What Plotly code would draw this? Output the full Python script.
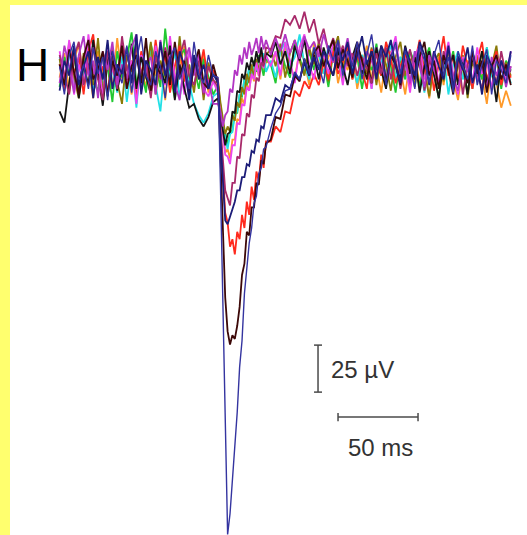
import plotly.graph_objects as go

# time axis (ms, relative to the onset of the evoked response)
T = ([-99, -96, -93, -90, -87, -84, -81, -78, -75, -72, -69, -66, -63, -60, -57, -54, -51,
      -48, -45, -42, -39, -36, -33, -30, -27, -24, -21, -18, -15, -12, -9, -6, -3]
     + [0, 1.5, 3, 4.5, 6, 7.5, 9, 10.5, 12, 13.5, 15, 16.5, 18, 19.5, 21, 22.5, 24, 25.5,
        27, 28.5, 30]
     + [33, 36, 39, 42, 45, 48, 51, 54, 57, 60, 63, 66, 69, 72, 75, 78, 81, 84, 87, 90, 93,
        96, 99, 102, 105, 108, 111, 114, 117, 120, 123, 126, 129, 132, 135, 138, 141, 144,
        147, 150, 153, 156, 159, 162, 165, 168, 171, 174, 177, 180, 183])

# sweeps (µV): pre-onset + response + late part
orange = ([-4,9,-12,5,14,-7,2,-15,10,-2,7,-10,17,-5,3,-13,9,0,-9,12,-3,5,-16,10,-7,2,13,-10,4,-5,9,-12,0]
          + [-7,-20,-30,-44,-42,-47,-37,-37,-26,-27,-15,-18,-7,-11,-1,-6,2,-3,6,0,5]
          + [3,9,-5,13,2,-4,10,5,-8,15,3,-2,7,12,-7,5,0,9,-10,3,13,-5,2,-12,7,10,-3,0,-13,5,8,-7,2,-15,3,7,-8,12,-5,-16,2,5,-10,8,-3,-18,3,-7,-20,-11,-19])
green = ([-9,7,-2,12,-14,4,16,-6,-11,9,2,-17,10,-4,6,20,-7,0,-12,14,3,-9,22,-2,-15,7,11,-5,2,-10,6,-4,-13]
         + [-8,-18,-30,-34,-40,-33,-32,-22,-23,-13,-14,-5,-8,1,-4,5,-1,8,2,-3,6]
         + [3,-7,12,2,-4,15,7,-2,10,0,13,5,-9,9,3,-5,12,2,7,-10,5,0,14,-3,9,2,-12,7,-5,10,4,-9,5,12,-2,-15,7,0,10,-7,3,-13,9,2,-5,12,-3,7,-10,5,0])
cyan = ([7,-5,12,-10,2,-4,15,-13,5,-7,10,0,-12,8,-17,4,-20,7,-2,13,-8,-22,5,-3,10,-15,2,-7,-18,-24,-28,-23,-14]
        + [-12,-20,-31,-36,-42,-34,-33,-24,-22,-13,-13,-5,-6,2,-3,4,0,7,2,9,-1]
        + [5,-4,10,15,2,7,19,3,-5,12,8,-2,13,5,16,-3,10,2,-7,8,3,-10,12,5,-2,15,-5,7,0,-9,10,3,-12,5,2,-7,8,-13,3,10,-5,2,-10,7,0,12,-3,-8,5,2,-7])
olive = ([6,-11,14,-4,-15,9,2,-8,17,-12,4,11,-6,-18,8,-1,13,-9,-3,15,-13,5,-4,10,-11,18,-6,3,-12,8,-16,4,-7]
         + [-6,-17,-25,-34,-30,-33,-24,-27,-17,-20,-9,-13,-2,-7,3,-4,6,-1,9,2,8]
         + [11,2,14,-4,9,16,5,-3,12,3,15,7,-6,10,18,1,9,-5,13,5,-2,12,-8,9,3,-11,7,15,-3,6,-9,11,0,-14,4,9,-6,12,-10,2,8,-15,5,-4,10,-9,2,13,-7,4,-3])
red = ([3,-10,15,-2,7,-13,10,19,-5,2,-12,8,-3,13,-8,5,-15,10,0,-7,16,-3,8,-12,2,13,-5,-10,7,-2,11,-8,0]
       + [-5,-32,-56,-76,-81,-94,-90,-98,-86,-90,-77,-84,-70,-77,-62,-69,-54,-59,-45,-52,-38]
       + [-38,-30,-33,-22,-23,-11,-14,-6,-10,-2,-8,4,-5,10,-2,4,13,-5,8,0,-10,11,3,-3,15,6,-7,2,10,-8,5,16,-2,7,-11,3,18,-3,8,-7,13,2,-10,5,15,-5,3,10,-8,2,-4])
magenta = ([10,-5,16,-13,3,-8,19,-2,7,-15,11,0,-7,15,-10,5,-18,8,2,-12,13,-3,-8,18,-5,3,-13,10,-2,7,-10,-14,-6]
           + [-12,-24,-33,-45,-46,-50,-40,-40,-28,-29,-18,-19,-9,-11,-2,-5,4,-3,7,1,8]
           + [2,10,-3,15,5,-7,12,19,3,-5,13,8,-2,16,7,-8,10,2,15,-3,5,-10,12,3,-7,8,18,-2,5,-12,7,13,-5,0,10,-8,3,15,-3,-13,7,2,-7,12,-2,5,-10,8,0,-5,10])
black = ([-22,-28,-7,11,-15,3,-8,16,-2,-19,5,10,-11,2,-5,14,-10,7,-3,-13,8,0,-7,13,-16,3,-10,-20,-18,-26,-30,-25,-17]
         + [-15,-26,-32,-40,-34,-33,-22,-23,-11,-12,-2,-5,4,0,7,2,10,4,12,3,9]
         + [7,15,3,10,-2,13,5,16,0,8,-5,12,3,-3,10,2,-8,7,15,-2,5,-7,12,0,-10,8,3,-5,13,-2,7,-12,2,10,-3,-15,5,0,8,-8,3,-13,7,-2,10,-7,2,-17,5,-3,0])
maroon = ([8,-3,-13,7,15,-8,2,12,-5,-16,10,3,-10,18,0,-7,13,-2,5,-15,8,-5,12,2,-10,7,16,-3,-8,5,-13,2,-5]
          + [-9,-30,-46,-64,-68,-72,-60,-60,-46,-47,-34,-35,-23,-25,-13,-15,-4,-6,4,2,12]
          + [11,18,17,27,24,29,22,31,20,27,14,22,10,17,5,13,2,9,-3,7,1,-7,9,-2,12,-5,6,-10,3,11,-3,8,-11,5,0,-8,10,2,-5,7,-13,3,8,-2,-10,5,0,-7,10,-3,2])
purple = ([-7,13,2,-12,8,18,-3,5,-15,10,0,15,-8,3,-5,12,19,-10,2,7,-13,16,-2,8,-7,-16,5,12,-3,10,-12,-5,-18]
          + [-18,-22,-30,-24,-22,-10,-12,0,-3,8,3,12,6,15,8,12,17,9,18,11,16]
          + [8,17,10,19,9,16,6,18,11,15,7,19,10,4,15,6,17,3,12,0,10,5,-3,11,-5,7,13,-2,6,-7,10,2,-9,8,0,-7,5,12,-4,-11,6,-1,9,-6,3,-10,7,-3,5,-9,2])
brown = ([3,-8,11,-2,-13,7,16,-5,0,10,-14,5,-3,13,-10,2,8,-7,17,-11,3,-2,10,-8,15,-3,5,-13,2,11,-7,-10,3]
         + [-7,-42,-86,-121,-139,-146,-141,-143,-136,-126,-109,-103,-86,-88,-73,-73,-60,-61,-48,-50,-39]
         + [-37,-25,-26,-13,-14,-3,-6,6,-3,9,13,2,10,16,1,11,5,-4,14,5,-5,10,0,13,-7,8,3,-8,12,2,-5,7,15,-3,5,-10,8,0,-13,7,3,-7,10,-2,5,-12,2,8,-5,3,-8])
navy_b = ([-11,5,-3,13,-8,2,10,-15,7,-5,16,-10,3,-2,12,-7,19,-13,5,0,-8,15,-3,7,-12,10,2,-16,8,-5,3,-10,-2]
          + [-7,-36,-60,-80,-82,-78,-73,-70,-64,-64,-57,-57,-50,-51,-43,-44,-37,-38,-30,-31,-24]
          + [-24,-15,-17,-8,-10,-2,-5,4,-3,7,0,10,3,-3,12,5,15,-2,8,18,3,10,-5,13,7,16,2,-7,12,5,-3,15,8,-8,10,2,-5,13,-10,7,0,12,-7,3,-13,8,2,-8,5,-3,10])
navy_a = ([2,-13,8,15,-5,3,-10,12,-2,7,-16,10,0,-7,13,-12,5,18,-3,-8,10,2,-15,7,12,-5,3,-10,15,-2,-7,8,-3]
          + [-4,-60,-122,-186,-247,-236,-219,-198,-182,-158,-144,-119,-105,-92,-84,-71,-67,-55,-52,-42,-41]
          + [-31,-23,-19,-11,-10,-1,-5,6,-2,12,3,-7,13,5,16,-3,10,2,15,-5,8,19,0,11,-8,7,15,-2,10,3,-10,13,5,-7,8,16,-3,7,-12,10,2,-5,13,-8,3,11,-13,5,0,-7,8])

SWEEPS = [
    ("orange", orange, "#ff9a2a", 1.8),
    ("green", green, "#22c832", 1.8),
    ("cyan", cyan, "#22e0e6", 1.8),
    ("olive", olive, "#8a7a08", 1.8),
    ("red", red, "#ff2a1e", 1.8),
    ("magenta", magenta, "#ee44ee", 1.8),
    ("black", black, "#151515", 1.8),
    ("maroon", maroon, "#a82a6a", 1.8),
    ("purple", purple, "#b236c4", 1.8),
    ("brown", brown, "#3c0808", 1.8),
    ("navy_b", navy_b, "#1c1c78", 1.8),
    ("navy_a", navy_a, "#3434a0", 1.4),
]

# scale bars
SCALE_UV = 25
SCALE_MS = 50
VBAR_X = 62.5
VBAR_Y0 = -146.3
HBAR_Y = -184.6
HBAR_X0 = 75

fig = go.Figure()
for name, vals, col, w in SWEEPS:
    fig.add_trace(go.Scatter(x=T, y=vals, mode="lines", name=name,
                             line=dict(color=col, width=w), hoverinfo="skip"))

bar = dict(color="#4a4a4a", width=1.5)
shapes = [
    dict(type="line", x0=VBAR_X, x1=VBAR_X, y0=VBAR_Y0, y1=VBAR_Y0 - SCALE_UV, line=bar),
    dict(type="line", x0=VBAR_X - 2.5, x1=VBAR_X + 2.5, y0=VBAR_Y0, y1=VBAR_Y0, line=bar),
    dict(type="line", x0=VBAR_X - 2.5, x1=VBAR_X + 2.5, y0=VBAR_Y0 - SCALE_UV, y1=VBAR_Y0 - SCALE_UV, line=bar),
    dict(type="line", x0=HBAR_X0, x1=HBAR_X0 + SCALE_MS, y0=HBAR_Y, y1=HBAR_Y, line=bar),
    dict(type="line", x0=HBAR_X0, x1=HBAR_X0, y0=HBAR_Y - 2.2, y1=HBAR_Y + 2.2, line=bar),
    dict(type="line", x0=HBAR_X0 + SCALE_MS, x1=HBAR_X0 + SCALE_MS, y0=HBAR_Y - 2.2, y1=HBAR_Y + 2.2, line=bar),
]
for s in shapes:
    s.update(xref="x", yref="y", layer="above")

font = "Liberation Sans, Arial, sans-serif"
annotations = [
    dict(x=69.5, y=VBAR_Y0 - SCALE_UV / 2 - 0.5, xref="x", yref="y", text="25 µV", showarrow=False,
         xanchor="left", yanchor="middle", font=dict(family=font, size=24, color="#333333")),
    dict(x=80.0, y=-200.5, xref="x", yref="y", text="50 ms", showarrow=False,
         xanchor="left", yanchor="middle", font=dict(family=font, size=24, color="#333333")),
    dict(x=-116, y=2.5, xref="x", yref="y", text="H", showarrow=False,
         xanchor="center", yanchor="middle", font=dict(family=font, size=46, color="#000000")),
]

fig.update_layout(
    width=527, height=535,
    margin=dict(l=10, r=0, t=5, b=0, pad=0),
    paper_bgcolor="#ffff6e",
    plot_bgcolor="#ffffff",
    showlegend=False,
    shapes=shapes,
    annotations=annotations,
    xaxis=dict(range=[-130, 193.1], visible=False, fixedrange=True),
    yaxis=dict(range=[-247.3, 34.6], visible=False, fixedrange=True),
)

fig.write_html("out.html", config={"displayModeBar": False},
               post_script="document.body.style.margin='0';")
